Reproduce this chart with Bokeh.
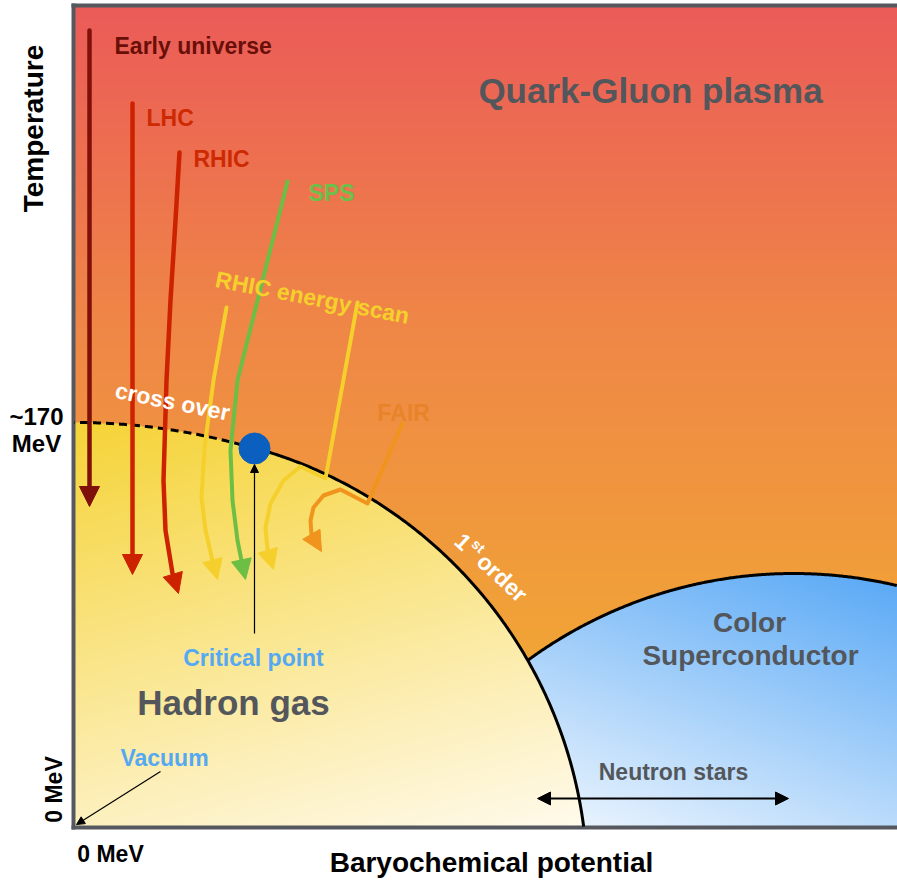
import numpy as np
from bokeh.plotting import figure
from bokeh.models import Range1d, Arrow, NormalHead
from bokeh.core.properties import value
from bokeh.embed import file_html
from bokeh.resources import INLINE

FONT = "Liberation Sans"

# ---------------- data (diagram units; T_c ~ 170 MeV sits at 404) ----------------
T_C = 404                 # crossover temperature at mu_B = 0
MU_XOVER = 509            # half-axis of the crossover (elliptic) part of the boundary
FO_MU0, FO_T0, FO_R = 59, -59, 454        # 1st-order line (circular arc)
CSC_MU0, CSC_T0, CSC_R = 719, -197, 450   # colour-superconductor dome
CP_MU, CP_T = 180, 378    # critical point
MU_MAX, T_MAX = 823, 820  # extent of the diagram

EARLY_MU = [15, 15, 15]
EARLY_T = [796, 340, 320]
LHC_MU = [58, 58, 58]
LHC_T = [723, 272, 252]
RHIC_MU = [105, 101, 96, 92, 89, 91, 98, 104]
RHIC_T = [674, 606, 526, 446, 346, 296, 253, 233]
SPS_MU = [213, 178, 163, 156, 158, 163, 167, 171]
SPS_T = [645, 506, 446, 376, 326, 286, 266, 247]
BES1_MU = [152, 139, 130, 127, 131, 138, 143]
BES1_T = [519, 446, 379, 329, 296, 266, 247]
BES2_MU = [283, 251, 226, 209, 196, 191, 193, 199]
BES2_T = [524, 348, 360, 346, 323, 299, 277, 257]
FAIR_MU = [328, 293, 266, 249, 239, 236, 237, 247]
FAIR_T = [403, 323, 337, 331, 319, 306, 292, 275]

CP_ARROW = [(180, 193), (180, 362)]
VACUUM_ARROW = [(86, 55), (2, 2)]
NEUTRON_ARROW = [(463, 28), (714, 28)]

T_TICK_LABEL = ["~170", "MeV"]
ORIGIN_LABEL = "0 MeV"
X_TITLE = "Baryochemical potential"
Y_TITLE = "Temperature"

# ---------------- figure (frame covers the canvas; diagram axes drawn as lines) ----------------
p = figure(width=897, height=882, x_range=Range1d(-74, 823), y_range=Range1d(-56, 826),
           output_backend="svg", toolbar_location=None, x_axis_type=None, y_axis_type=None,
           min_border=0)
p.outline_line_color = None
p.grid.visible = False
p.background_fill_color = "white"
p.border_fill_color = "white"


def in_hadron(mu, t):
    ell = (mu / MU_XOVER) ** 2 + (t / T_C) ** 2 <= 1
    circ = (mu - FO_MU0) ** 2 + (t - FO_T0) ** 2 <= FO_R ** 2
    return np.where(mu <= CP_MU, ell, circ)


# ---------------- region fills (gradients as an RGBA raster) ----------------
W, H = MU_MAX, T_MAX
X, Y = np.meshgrid(np.arange(W) + 0.5, np.arange(H) + 0.5)
hadron = in_hadron(X, Y)
csc = ((X - CSC_MU0) ** 2 + (Y - CSC_T0) ** 2 <= CSC_R ** 2) & ~hadron

rgb = np.zeros((H, W, 3))
stops_t = [0, 126, 496, 812]
stops_c = [(242, 176, 49), (241, 168, 52), (239, 135, 70), (235, 92, 88)]
for k in range(3):
    rgb[..., k] = np.interp(Y, stops_t, [c[k] for c in stops_c])
th = np.clip(0.75 * (1 - Y / T_C) + 0.25 * (X / MU_XOVER), 0, 1)
c0, c1 = np.array([245, 211, 55]), np.array([255, 250, 236])
hcol = c0 + (c1 - c0) * th[..., None]
rgb[hadron] = hcol[hadron]
tc = np.clip(0.35 * (W - X) / 370 + 0.65 * (250 - Y) / 250, 0, 1)
b0, b1 = np.array([88, 168, 245]), np.array([240, 247, 254])
ccol = b0 + (b1 - b0) * tc[..., None]
rgb[csc] = ccol[csc]

img = np.empty((H, W), dtype=np.uint32)
view = img.view(dtype=np.uint8).reshape((H, W, 4))
view[..., :3] = np.round(rgb).astype(np.uint8)
view[..., 3] = 255
p.image_rgba(image=[img], x=0, y=0, dw=W, dh=H)

# diagram axes (left, bottom, top)
AX = "#55595F"
p.line([-1, -1], [-3, T_MAX + 3], line_color=AX, line_width=4)
p.line([-3, MU_MAX], [-1, -1], line_color=AX, line_width=4)
p.line([-3, MU_MAX], [T_MAX + 1, T_MAX + 1], line_color=AX, line_width=4)

# ---------------- phase boundaries ----------------
phi_cp = np.arccos(CP_MU / MU_XOVER)
phi = np.linspace(phi_cp, np.pi / 2, 80)
p.line(MU_XOVER * np.cos(phi), T_C * np.sin(phi), line_color="black", line_width=3,
       line_dash="8 5")
beta_cp = np.arctan2(CP_T - FO_T0, CP_MU - FO_MU0)
beta = np.linspace(beta_cp, np.arcsin(-FO_T0 / FO_R), 200)
p.line(FO_MU0 + FO_R * np.cos(beta), FO_T0 + FO_R * np.sin(beta), line_color="black",
       line_width=3)

alpha = np.linspace(np.radians(60), np.radians(135), 400)
amu = CSC_MU0 + CSC_R * np.cos(alpha)
at = CSC_T0 + CSC_R * np.sin(alpha)
keep = ~in_hadron(amu, at) & (amu <= MU_MAX)
p.line(amu[keep], at[keep], line_color="black", line_width=3)

# ---------------- trajectories ----------------
def trajectory(mu, t, color, width):
    p.line(mu[:-1], t[:-1], line_color=color, line_width=width, line_join="round",
           line_cap="round")
    p.add_layout(Arrow(x_start=mu[-2], y_start=t[-2], x_end=mu[-1], y_end=t[-1],
                       line_color=None,
                       end=NormalHead(size=20, fill_color=color, line_color=color,
                                      line_width=1)))

trajectory(EARLY_MU, EARLY_T, "#80110A", 4.5)
trajectory(LHC_MU, LHC_T, "#CC2200", 4.5)
trajectory(RHIC_MU, RHIC_T, "#CC2200", 4.5)
trajectory(BES1_MU, BES1_T, "#F5D02C", 4)
trajectory(BES2_MU, BES2_T, "#F5D02C", 4)
trajectory(FAIR_MU, FAIR_T, "#F0941E", 4)
trajectory(SPS_MU, SPS_T, "#6DBE45", 4)

# critical point
p.scatter([CP_MU], [CP_T], size=31, fill_color="#0B5FBF", line_color="#0B5FBF")
for (x0, y0), (x1, y1) in (CP_ARROW, VACUUM_ARROW):
    p.add_layout(Arrow(x_start=x0, y_start=y0, x_end=x1, y_end=y1, line_color="black",
                       line_width=1.2, end=NormalHead(size=8, fill_color="black",
                                                      line_color="black")))
(x0, y0), (x1, y1) = NEUTRON_ARROW
p.add_layout(Arrow(x_start=x0, y_start=y0, x_end=x1, y_end=y1, line_color="black",
                   line_width=2,
                   start=NormalHead(size=13, fill_color="black", line_color="black"),
                   end=NormalHead(size=13, fill_color="black", line_color="black")))

# ---------------- texts ----------------
def txt(x, y, s, color, size, align="center", angle=0.0):
    p.text(x=[x], y=[y], text=[s], text_color=color, text_font=value(FONT),
           text_font_style="bold", text_font_size=size, text_align=align,
           text_baseline="middle", angle=angle)

GREY = "#53575C"
SMALL = "23px"
txt(40, 781, "Early universe", "#6A0F08", SMALL, "left")
txt(72, 709, "LHC", "#CD2A03", SMALL, "left")
txt(119, 668, "RHIC", "#CD2A03", SMALL, "left")
txt(234, 634, "SPS", "#6CC04A", SMALL, "left")
txt(303, 414, "FAIR", "#E8832A", SMALL, "left")
txt(238, 529, "RHIC energy scan", "#F5D02C", SMALL, "center", -0.19)
txt(98, 425, "cross over", "white", SMALL, "center", -0.2)
th1 = -0.75
u = np.array([np.cos(th1), np.sin(th1)])
n = np.array([-np.sin(th1), np.cos(th1)])
P1 = np.array([389.0, 285.0])
txt(*P1, "1", "white", SMALL, "center", th1)
txt(*(P1 + 14 * u + 7 * n), "st", "white", "14px", "center", th1)
txt(*(P1 + 53 * u), "order", "white", SMALL, "center", th1)

txt(576, 736, "Quark-Gluon plasma", GREY, "35px")
txt(159, 124, "Hadron gas", GREY, "35px")
txt(675, 204, "Color", GREY, "28px")
txt(676, 171, "Superconductor", GREY, "28px")
txt(599, 55, "Neutron stars", GREY, SMALL)
txt(179, 169, "Critical point", "#55A8F2", SMALL)
txt(90, 69, "Vacuum", "#55A8F2", SMALL)

# axis texts
txt(-38, 410, T_TICK_LABEL[0], "black", "24px")
txt(-38, 383, T_TICK_LABEL[1], "black", "24px")
txt(-41, 698, Y_TITLE, "black", "28px", "center", np.pi / 2)
txt(-21, 37, ORIGIN_LABEL, "black", "23px", "center", np.pi / 2)
txt(36, -27, ORIGIN_LABEL, "black", "23px")
txt(417, -36, X_TITLE, "black", "28px")

open("out.html", "w").write(file_html(p, INLINE))
